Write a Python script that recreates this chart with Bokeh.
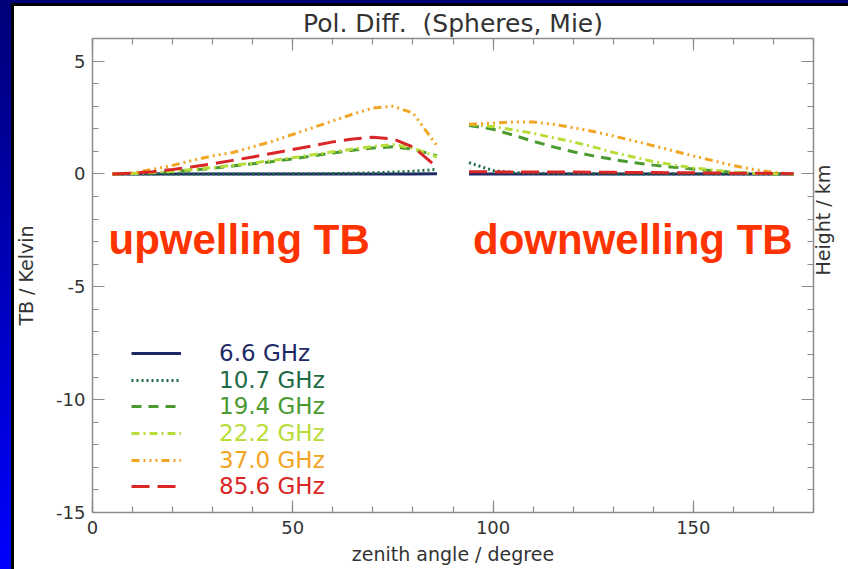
import math
from bokeh.plotting import figure
from bokeh.models import (LinearAxis, SingleIntervalTicker, Range1d, Label,
                          Legend, LegendItem, ColumnDataSource,
                          PrintfTickFormatter, CustomJSTickFormatter)
from bokeh.embed import file_html
from bokeh.resources import INLINE

# ---------------- data ----------------
x_up = [5, 10, 15, 20, 25, 30, 35, 40, 45, 50, 55, 60, 65, 70, 75, 80, 86]
x_down = [94, 100, 105, 110, 115, 120, 125, 130, 135, 140, 145, 150, 155, 160, 165, 170, 175]

labels = ["6.6 GHz", "10.7 GHz", "19.4 GHz", "22.2 GHz", "37.0 GHz", "85.6 GHz"]

up_066 = [0, 0, 0, 0, 0, 0, 0, 0, 0, 0, 0, 0, 0, 0, 0, 0, 0.01]
up_107 = [0, 0, 0, 0, 0, 0, 0, 0, 0, 0.01, 0.01, 0.02, 0.03, 0.05, 0.08, 0.12, 0.2]
up_194 = [0, 0.02, 0.05, 0.1, 0.17, 0.25, 0.35, 0.45, 0.55, 0.67, 0.8, 0.93, 1.05, 1.15, 1.2, 1.1, 0.8]
up_222 = [0, 0.02, 0.06, 0.12, 0.2, 0.28, 0.38, 0.48, 0.6, 0.72, 0.85, 0.98, 1.1, 1.22, 1.3, 1.15, 0.75]
up_370 = [0, 0.05, 0.2, 0.38, 0.6, 0.8, 0.95, 1.2, 1.45, 1.75, 2.05, 2.35, 2.65, 2.92, 3.0, 2.7, 1.25]
up_856 = [0, 0.03, 0.1, 0.2, 0.32, 0.45, 0.6, 0.75, 0.92, 1.08, 1.25, 1.42, 1.55, 1.62, 1.55, 1.2, 0.3]

down_066 = [0, 0, 0, 0, 0, 0, 0, 0, 0, 0, 0, 0, 0, 0, 0, 0, 0]
down_107 = [0.5, 0.15, 0.06, 0.03, 0.02, 0.01, 0.01, 0, 0, 0, 0, 0, 0, 0, 0, 0, 0]
down_194 = [2.15, 1.98, 1.72, 1.45, 1.2, 0.98, 0.8, 0.64, 0.5, 0.39, 0.3, 0.22, 0.14, 0.07, 0.03, 0.01, 0]
down_222 = [2.2, 2.1, 1.95, 1.8, 1.6, 1.42, 1.2, 0.95, 0.75, 0.55, 0.4, 0.27, 0.17, 0.08, 0.03, 0.01, 0]
down_370 = [2.2, 2.25, 2.3, 2.3, 2.2, 2.05, 1.88, 1.68, 1.47, 1.25, 1.02, 0.8, 0.58, 0.37, 0.2, 0.07, 0]
down_856 = [0.1, 0.09, 0.09, 0.08, 0.08, 0.08, 0.07, 0.07, 0.06, 0.06, 0.05, 0.05, 0.04, 0.03, 0.03, 0.02, 0.01]

x_ticks_interval = 50
y_ticks_interval = 5

# ---------------- styles ----------------
colors = ["#1e2a66", "#1f6b45", "#4a9a30", "#b8dd3a", "#f2a423", "#d92626"]
dashes = ["solid", "2 3", "10 7", "8 4 2 4", "8 4 2 4 2 4 2 4", "18 8"]
ups = [up_066, up_107, up_194, up_222, up_370, up_856]
downs = [down_066, down_107, down_194, down_222, down_370, down_856]

TXT = "#333333"
AX = "#8c8c8c"
FONT = "DejaVu Sans"

p = figure(width=848, height=569, x_range=Range1d(0, 180), y_range=Range1d(-15, 6),
           output_backend="svg", toolbar_location=None,
           min_border_left=92, min_border_right=35, min_border_top=38, min_border_bottom=57)
p.border_fill_color = None
p.background_fill_color = "white"
p.outline_line_color = None
p.xgrid.visible = False
p.ygrid.visible = False
p.styles = {
    "background": "linear-gradient(#ffffff,#ffffff) 14px 6px / 100% 100% no-repeat, "
                  "linear-gradient(#000000,#000000) 11px 3px / 100% 100% no-repeat, "
                  "linear-gradient(to bottom, #000078, #0000ff)"
}

p.title.text = "Pol. Diff.\u00a0 (Spheres, Mie)"
p.title.align = "center"
p.title.text_font = FONT
p.title.text_font_size = "25px"
p.title.text_font_style = "normal"
p.title.text_color = TXT
p.title.standoff = 2


def style_axis(ax, labels_on=True):
    ax.axis_line_color = AX
    ax.axis_line_width = 1.5
    ax.major_tick_line_color = AX
    ax.minor_tick_line_color = AX
    ax.major_tick_line_width = 1.2
    ax.minor_tick_line_width = 1.2
    ax.major_tick_in = 12
    ax.major_tick_out = 0
    ax.minor_tick_in = 6
    ax.minor_tick_out = 0
    ax.major_label_text_font = FONT
    ax.major_label_text_color = TXT
    ax.axis_label_text_font = FONT
    ax.axis_label_text_color = TXT
    ax.axis_label_text_font_style = "normal"
    ax.axis_label_text_font_size = "19px"
    if labels_on:
        ax.formatter = PrintfTickFormatter(format="%d")
        ax.major_label_text_font_size = "18px"
    else:
        ax.formatter = CustomJSTickFormatter(code="return ''")
        ax.major_label_text_font_size = "1px"
        ax.major_label_text_color = None
        ax.major_label_standoff = 0


xa = p.xaxis[0]
xa.ticker = SingleIntervalTicker(interval=x_ticks_interval, num_minor_ticks=5)
xa.axis_label = "zenith angle / degree"
style_axis(xa)
xa.major_label_standoff = 8
xa.axis_label_standoff = 6

ya = p.yaxis[0]
ya.ticker = SingleIntervalTicker(interval=y_ticks_interval, num_minor_ticks=5)
ya.axis_label = "TB / Kelvin"
style_axis(ya)
ya.major_label_standoff = 7
ya.axis_label_standoff = 16

top = LinearAxis(ticker=SingleIntervalTicker(interval=x_ticks_interval, num_minor_ticks=5))
style_axis(top, labels_on=False)
p.add_layout(top, "above")

right = LinearAxis(ticker=SingleIntervalTicker(interval=y_ticks_interval, num_minor_ticks=5))
style_axis(right, labels_on=False)
right.axis_label = "Height / km"
right.axis_label_standoff = 9
try:
    right.axis_label_orientation = math.pi / 2
except Exception:
    pass
p.add_layout(right, "right")

nan = float("nan")
renderers = []
for lab, c, d, u, dn in zip(labels, colors, dashes, ups, downs):
    src = ColumnDataSource(dict(x=x_up + [nan] + x_down, y=u + [nan] + dn))
    r = p.line("x", "y", source=src, line_color=c, line_width=3, line_dash=d)
    renderers.append(r)

# legend: one legend per entry so each label can carry its own colour
centers = [353, 379.5, 406, 433, 459.5, 486]
item_h = 26
for lab, c, r, cy in zip(labels, colors, renderers, centers):
    lg = Legend(items=[LegendItem(label=lab, renderers=[r])],
                location=(39, 512 - cy - item_h / 2),
                glyph_width=50, glyph_height=item_h, label_height=item_h,
                label_standoff=38, padding=0, margin=0, spacing=0,
                border_line_color=None, background_fill_alpha=0,
                label_text_font=FONT, label_text_font_size="23px",
                label_text_color=c)
    p.add_layout(lg, "center")

ann_kw = dict(text_font="Liberation Sans", text_font_size="42px", text_font_style="bold",
              text_color="#ff3300", text_baseline="alphabetic", text_align="left")
p.add_layout(Label(x=4, y=-2.92, text="upwelling TB", **ann_kw))
p.add_layout(Label(x=95, y=-2.92, text="downwelling TB", **ann_kw))

open("out.html", "w").write(file_html(p, INLINE))
